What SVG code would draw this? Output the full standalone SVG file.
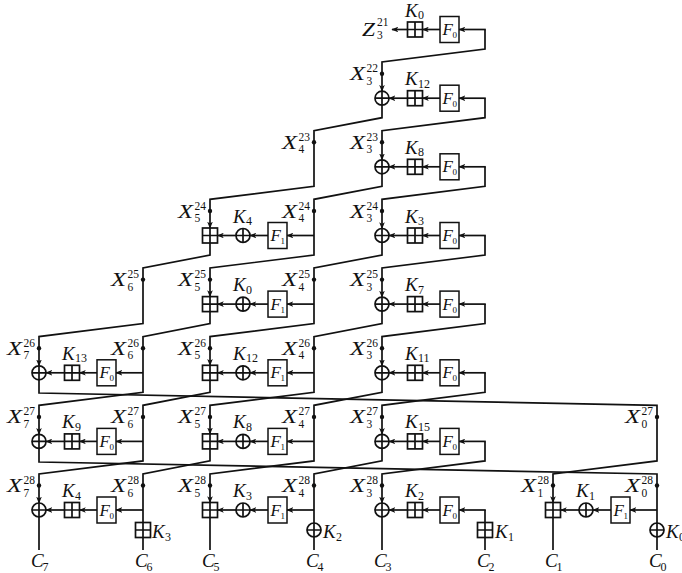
<svg xmlns="http://www.w3.org/2000/svg" width="682" height="573" viewBox="0 0 682 573">
<style>
.ln{fill:none;stroke:#111;stroke-width:1.7}
.ar{marker-end:url(#ah)}
.t{font-family:"Liberation Serif","Times New Roman",serif;font-style:italic;font-size:19px;fill:#111}
.f{font-family:"Liberation Serif","Times New Roman",serif;font-style:italic;font-size:17px;fill:#111}
.n{font-family:"Liberation Serif","Times New Roman",serif;font-size:11.5px;fill:#111}
.s{font-style:normal;font-size:12px}
.fs{font-style:normal;font-size:9px}
.dot{fill:#111}
.bx{fill:#fff;stroke:#111;stroke-width:1.5}
</style>
<defs>
<marker id="ah" viewBox="0 0 10 8" refX="9" refY="4" markerWidth="7" markerHeight="5.6" markerUnits="userSpaceOnUse" orient="auto"><path d="M0,0L10,4L0,8L2.5,4z" fill="#111"/></marker>
<g id="xor"><circle r="7" fill="#fff" stroke="#111" stroke-width="1.7"/><path d="M-7,0H7M0,-7V7" fill="none" stroke="#111" stroke-width="1.7"/></g>
<g id="add"><rect x="-7.5" y="-7.5" width="15" height="15" fill="#fff" stroke="#111" stroke-width="1.7"/><path d="M-7.5,0H7.5M0,-7.5V7.5" fill="none" stroke="#111" stroke-width="1.7"/></g>
</defs>
<rect width="682" height="573" fill="#fff"/>
<g id="connectors">
<path class="ln ar" d="M485,29.5V49L382,62V91.2"/>
<path class="ln ar" d="M485,98.2V117.7L382,130.7V159.8"/>
<path class="ln ar" d="M485,166.8V186.3L382,199.3V228.5"/>
<path class="ln ar" d="M485,235.5V255L382,268V297.1"/>
<path class="ln ar" d="M485,304.1V323.6L382,336.6V365.8"/>
<path class="ln ar" d="M485,372.8V392.3L382,405.3V434.4"/>
<path class="ln ar" d="M485,441.4V460.9L382,473.9V503"/>
<path class="ln" d="M485,510V550"/>
<path class="ln ar" d="M485.8,29.5H459"/>
<path class="ln ar" d="M485.8,98.2H459"/>
<path class="ln ar" d="M485.8,166.8H459"/>
<path class="ln ar" d="M485.8,235.5H459"/>
<path class="ln ar" d="M485.8,304.1H459"/>
<path class="ln ar" d="M485.8,372.8H459"/>
<path class="ln ar" d="M485.8,441.4H459"/>
<path class="ln ar" d="M485.8,510H459"/>
<path class="ln ar" d="M382,105.2V117.7L314,130.7V186.3L210,199.3V228"/>
<path class="ln ar" d="M382,173.8V186.3L314,199.3V255L210,268V296.6"/>
<path class="ln ar" d="M382,242.5V255L314,268V323.6L210,336.6V365.3"/>
<path class="ln ar" d="M382,311.1V323.6L314,336.6V392.3L210,405.3V433.9"/>
<path class="ln ar" d="M382,379.8V392.3L314,405.3V460.9L210,473.9V502.5"/>
<path class="ln" d="M382,448.4V460.9L314,473.9V550"/>
<path class="ln" d="M382,517V550"/>
<path class="ln ar" d="M314,235.5H287"/>
<path class="ln ar" d="M314,304.1H287"/>
<path class="ln ar" d="M314,372.8H287"/>
<path class="ln ar" d="M314,441.4H287"/>
<path class="ln ar" d="M314,510H287"/>
<path class="ln ar" d="M210,243V255L143,268V323.6L39,336.6V365.8"/>
<path class="ln ar" d="M210,311.6V323.6L143,336.6V392.3L39,405.3V434.4"/>
<path class="ln ar" d="M210,380.3V392.3L143,405.3V460.9L39,473.9V503"/>
<path class="ln" d="M210,448.9V460.9L143,473.9V550"/>
<path class="ln" d="M210,517.5V550"/>
<path class="ln ar" d="M143,372.8H116"/>
<path class="ln ar" d="M143,441.4H116"/>
<path class="ln ar" d="M143,510H116"/>
<path class="ln ar" d="M39,379.8V393L657,405.3V460.9L553,473.9V502.5"/>
<path class="ln" d="M39,448.4V462L657,474V550"/>
<path class="ln" d="M39,517V550"/>
<path class="ln ar" d="M657,510H630"/>
<path class="ln" d="M553,517.5V550"/>
<path class="ln ar" d="M440,29.5H422.5"/>
<path class="ln ar" d="M407.5,29.5H392"/>
<path class="ln ar" d="M440,98.2H422.5"/><path class="ln ar" d="M407.5,98.2H389"/>
<path class="ln ar" d="M440,166.8H422.5"/><path class="ln ar" d="M407.5,166.8H389"/>
<path class="ln ar" d="M440,235.5H422.5"/><path class="ln ar" d="M407.5,235.5H389"/>
<path class="ln ar" d="M440,304.1H422.5"/><path class="ln ar" d="M407.5,304.1H389"/>
<path class="ln ar" d="M440,372.8H422.5"/><path class="ln ar" d="M407.5,372.8H389"/>
<path class="ln ar" d="M440,441.4H422.5"/><path class="ln ar" d="M407.5,441.4H389"/>
<path class="ln ar" d="M440,510H422.5"/><path class="ln ar" d="M407.5,510H389"/>
<path class="ln ar" d="M268,235.5H250"/><path class="ln ar" d="M236,235.5H217.5"/>
<path class="ln ar" d="M268,304.1H250"/><path class="ln ar" d="M236,304.1H217.5"/>
<path class="ln ar" d="M268,372.8H250"/><path class="ln ar" d="M236,372.8H217.5"/>
<path class="ln ar" d="M268,441.4H250"/><path class="ln ar" d="M236,441.4H217.5"/>
<path class="ln ar" d="M268,510H250"/><path class="ln ar" d="M236,510H217.5"/>
<path class="ln ar" d="M97,372.8H79.5"/><path class="ln ar" d="M64.5,372.8H46"/>
<path class="ln ar" d="M97,441.4H79.5"/><path class="ln ar" d="M64.5,441.4H46"/>
<path class="ln ar" d="M97,510H79.5"/><path class="ln ar" d="M64.5,510H46"/>
<path class="ln ar" d="M611,510H593"/><path class="ln ar" d="M579,510H560.5"/>
</g>
<g id="row0">
<g id="z321"><text class="t" x="362" y="35.5" textLength="13" lengthAdjust="spacingAndGlyphs">Z</text><text class="n" x="377" y="26">21</text><text class="n" x="377" y="39">3</text></g>
<g id="add-r0-E"><use href="#add" x="415" y="29.5"/><text class="t" x="405" y="16.5">K<tspan class="s" x="418" y="19">0</tspan></text></g>
<g id="f-r0-E"><rect class="bx" x="440" y="16.5" width="19" height="26"/><text class="f" x="442.5" y="35">F<tspan class="fs" x="452.5" y="38">0</tspan></text></g>
</g>
<g id="row1">
<g id="xor-r1-E"><use href="#xor" x="382" y="98.2"/></g>
<g id="add-r1-E"><use href="#add" x="415" y="98.2"/><text class="t" x="405" y="85.2">K<tspan class="s" x="418" y="87.7">12</tspan></text></g>
<g id="f-r1-E"><rect class="bx" x="440" y="85.2" width="19" height="26"/><text class="f" x="442.5" y="103.7">F<tspan class="fs" x="452.5" y="106.7">0</tspan></text></g>
</g>
<g id="row2">
<g id="xor-r2-E"><use href="#xor" x="382" y="166.8"/></g>
<g id="add-r2-E"><use href="#add" x="415" y="166.8"/><text class="t" x="405" y="153.8">K<tspan class="s" x="418" y="156.3">8</tspan></text></g>
<g id="f-r2-E"><rect class="bx" x="440" y="153.8" width="19" height="26"/><text class="f" x="442.5" y="172.3">F<tspan class="fs" x="452.5" y="175.3">0</tspan></text></g>
</g>
<g id="row3">
<g id="add-r3-C"><use href="#add" x="210" y="235.5"/></g>
<g id="xor-r3-C"><use href="#xor" x="243" y="235.5"/><text class="t" x="233" y="222.5">K<tspan class="s" x="246" y="225">4</tspan></text></g>
<g id="f-r3-C"><rect class="bx" x="268" y="222.5" width="19" height="26"/><text class="f" x="270.5" y="241">F<tspan class="fs" x="280.5" y="244">1</tspan></text></g>
<g id="xor-r3-E"><use href="#xor" x="382" y="235.5"/></g>
<g id="add-r3-E"><use href="#add" x="415" y="235.5"/><text class="t" x="405" y="222.5">K<tspan class="s" x="418" y="225">3</tspan></text></g>
<g id="f-r3-E"><rect class="bx" x="440" y="222.5" width="19" height="26"/><text class="f" x="442.5" y="241">F<tspan class="fs" x="452.5" y="244">0</tspan></text></g>
</g>
<g id="row4">
<g id="add-r4-C"><use href="#add" x="210" y="304.1"/></g>
<g id="xor-r4-C"><use href="#xor" x="243" y="304.1"/><text class="t" x="233" y="291.1">K<tspan class="s" x="246" y="293.6">0</tspan></text></g>
<g id="f-r4-C"><rect class="bx" x="268" y="291.1" width="19" height="26"/><text class="f" x="270.5" y="309.6">F<tspan class="fs" x="280.5" y="312.6">1</tspan></text></g>
<g id="xor-r4-E"><use href="#xor" x="382" y="304.1"/></g>
<g id="add-r4-E"><use href="#add" x="415" y="304.1"/><text class="t" x="405" y="291.1">K<tspan class="s" x="418" y="293.6">7</tspan></text></g>
<g id="f-r4-E"><rect class="bx" x="440" y="291.1" width="19" height="26"/><text class="f" x="442.5" y="309.6">F<tspan class="fs" x="452.5" y="312.6">0</tspan></text></g>
</g>
<g id="row5">
<g id="xor-r5-A"><use href="#xor" x="39" y="372.8"/></g>
<g id="add-r5-A"><use href="#add" x="72" y="372.8"/><text class="t" x="62" y="359.8">K<tspan class="s" x="75" y="362.3">13</tspan></text></g>
<g id="f-r5-A"><rect class="bx" x="97" y="359.8" width="19" height="26"/><text class="f" x="99.5" y="378.3">F<tspan class="fs" x="109.5" y="381.3">0</tspan></text></g>
<g id="add-r5-C"><use href="#add" x="210" y="372.8"/></g>
<g id="xor-r5-C"><use href="#xor" x="243" y="372.8"/><text class="t" x="233" y="359.8">K<tspan class="s" x="246" y="362.3">12</tspan></text></g>
<g id="f-r5-C"><rect class="bx" x="268" y="359.8" width="19" height="26"/><text class="f" x="270.5" y="378.3">F<tspan class="fs" x="280.5" y="381.3">1</tspan></text></g>
<g id="xor-r5-E"><use href="#xor" x="382" y="372.8"/></g>
<g id="add-r5-E"><use href="#add" x="415" y="372.8"/><text class="t" x="405" y="359.8">K<tspan class="s" x="418" y="362.3">11</tspan></text></g>
<g id="f-r5-E"><rect class="bx" x="440" y="359.8" width="19" height="26"/><text class="f" x="442.5" y="378.3">F<tspan class="fs" x="452.5" y="381.3">0</tspan></text></g>
</g>
<g id="row6">
<g id="xor-r6-A"><use href="#xor" x="39" y="441.4"/></g>
<g id="add-r6-A"><use href="#add" x="72" y="441.4"/><text class="t" x="62" y="428.4">K<tspan class="s" x="75" y="430.9">9</tspan></text></g>
<g id="f-r6-A"><rect class="bx" x="97" y="428.4" width="19" height="26"/><text class="f" x="99.5" y="446.9">F<tspan class="fs" x="109.5" y="449.9">0</tspan></text></g>
<g id="add-r6-C"><use href="#add" x="210" y="441.4"/></g>
<g id="xor-r6-C"><use href="#xor" x="243" y="441.4"/><text class="t" x="233" y="428.4">K<tspan class="s" x="246" y="430.9">8</tspan></text></g>
<g id="f-r6-C"><rect class="bx" x="268" y="428.4" width="19" height="26"/><text class="f" x="270.5" y="446.9">F<tspan class="fs" x="280.5" y="449.9">1</tspan></text></g>
<g id="xor-r6-E"><use href="#xor" x="382" y="441.4"/></g>
<g id="add-r6-E"><use href="#add" x="415" y="441.4"/><text class="t" x="405" y="428.4">K<tspan class="s" x="418" y="430.9">15</tspan></text></g>
<g id="f-r6-E"><rect class="bx" x="440" y="428.4" width="19" height="26"/><text class="f" x="442.5" y="446.9">F<tspan class="fs" x="452.5" y="449.9">0</tspan></text></g>
</g>
<g id="row7">
<g id="xor-r7-A"><use href="#xor" x="39" y="510"/></g>
<g id="add-r7-A"><use href="#add" x="72" y="510"/><text class="t" x="62" y="497">K<tspan class="s" x="75" y="499.5">4</tspan></text></g>
<g id="f-r7-A"><rect class="bx" x="97" y="497" width="19" height="26"/><text class="f" x="99.5" y="515.5">F<tspan class="fs" x="109.5" y="518.5">0</tspan></text></g>
<g id="add-r7-C"><use href="#add" x="210" y="510"/></g>
<g id="xor-r7-C"><use href="#xor" x="243" y="510"/><text class="t" x="233" y="497">K<tspan class="s" x="246" y="499.5">3</tspan></text></g>
<g id="f-r7-C"><rect class="bx" x="268" y="497" width="19" height="26"/><text class="f" x="270.5" y="515.5">F<tspan class="fs" x="280.5" y="518.5">1</tspan></text></g>
<g id="xor-r7-E"><use href="#xor" x="382" y="510"/></g>
<g id="add-r7-E"><use href="#add" x="415" y="510"/><text class="t" x="405" y="497">K<tspan class="s" x="418" y="499.5">2</tspan></text></g>
<g id="f-r7-E"><rect class="bx" x="440" y="497" width="19" height="26"/><text class="f" x="442.5" y="515.5">F<tspan class="fs" x="452.5" y="518.5">0</tspan></text></g>
<g id="add-r7-G"><use href="#add" x="553" y="510"/></g>
<g id="xor-r7-G"><use href="#xor" x="586" y="510"/><text class="t" x="576" y="497">K<tspan class="s" x="589" y="499.5">1</tspan></text></g>
<g id="f-r7-G"><rect class="bx" x="611" y="497" width="19" height="26"/><text class="f" x="613.5" y="515.5">F<tspan class="fs" x="623.5" y="518.5">1</tspan></text></g>
<g id="add-k3-B"><use href="#add" x="143" y="530"/><text class="t" x="152" y="537.5">K<tspan class="s" x="165" y="540.5">3</tspan></text></g>
<g id="xor-k2-D"><use href="#xor" x="314" y="530"/><text class="t" x="323" y="537.5">K<tspan class="s" x="336" y="540.5">2</tspan></text></g>
<g id="add-k1-F"><use href="#add" x="485" y="530"/><text class="t" x="495" y="537.5">K<tspan class="s" x="508" y="540.5">1</tspan></text></g>
<g id="xor-k0-H"><use href="#xor" x="657" y="530"/><text class="t" x="666" y="537.5">K<tspan class="s" x="679" y="540.5">0</tspan></text></g>
</g>
<g id="state-labels">
<circle class="dot" cx="382" cy="73.7" r="2.2"/><text class="t" x="350" y="80.2" textLength="15" lengthAdjust="spacingAndGlyphs">X</text><text class="n" x="366.5" y="72.2">22</text><text class="n" x="366.5" y="84.7">3</text>
<circle class="dot" cx="314" cy="142.3" r="2.2"/><text class="t" x="282" y="148.8" textLength="15" lengthAdjust="spacingAndGlyphs">X</text><text class="n" x="298.5" y="140.8">23</text><text class="n" x="298.5" y="153.3">4</text>
<circle class="dot" cx="382" cy="142.3" r="2.2"/><text class="t" x="350" y="148.8" textLength="15" lengthAdjust="spacingAndGlyphs">X</text><text class="n" x="366.5" y="140.8">23</text><text class="n" x="366.5" y="153.3">3</text>
<circle class="dot" cx="210" cy="211" r="2.2"/><text class="t" x="178" y="217.5" textLength="15" lengthAdjust="spacingAndGlyphs">X</text><text class="n" x="194.5" y="209.5">24</text><text class="n" x="194.5" y="222">5</text>
<circle class="dot" cx="314" cy="211" r="2.2"/><text class="t" x="282" y="217.5" textLength="15" lengthAdjust="spacingAndGlyphs">X</text><text class="n" x="298.5" y="209.5">24</text><text class="n" x="298.5" y="222">4</text>
<circle class="dot" cx="382" cy="211" r="2.2"/><text class="t" x="350" y="217.5" textLength="15" lengthAdjust="spacingAndGlyphs">X</text><text class="n" x="366.5" y="209.5">24</text><text class="n" x="366.5" y="222">3</text>
<circle class="dot" cx="143" cy="279.6" r="2.2"/><text class="t" x="111" y="286.1" textLength="15" lengthAdjust="spacingAndGlyphs">X</text><text class="n" x="127.5" y="278.1">25</text><text class="n" x="127.5" y="290.6">6</text>
<circle class="dot" cx="210" cy="279.6" r="2.2"/><text class="t" x="178" y="286.1" textLength="15" lengthAdjust="spacingAndGlyphs">X</text><text class="n" x="194.5" y="278.1">25</text><text class="n" x="194.5" y="290.6">5</text>
<circle class="dot" cx="314" cy="279.6" r="2.2"/><text class="t" x="282" y="286.1" textLength="15" lengthAdjust="spacingAndGlyphs">X</text><text class="n" x="298.5" y="278.1">25</text><text class="n" x="298.5" y="290.6">4</text>
<circle class="dot" cx="382" cy="279.6" r="2.2"/><text class="t" x="350" y="286.1" textLength="15" lengthAdjust="spacingAndGlyphs">X</text><text class="n" x="366.5" y="278.1">25</text><text class="n" x="366.5" y="290.6">3</text>
<circle class="dot" cx="39" cy="348.3" r="2.2"/><text class="t" x="7" y="354.8" textLength="15" lengthAdjust="spacingAndGlyphs">X</text><text class="n" x="23.5" y="346.8">26</text><text class="n" x="23.5" y="359.3">7</text>
<circle class="dot" cx="143" cy="348.3" r="2.2"/><text class="t" x="111" y="354.8" textLength="15" lengthAdjust="spacingAndGlyphs">X</text><text class="n" x="127.5" y="346.8">26</text><text class="n" x="127.5" y="359.3">6</text>
<circle class="dot" cx="210" cy="348.3" r="2.2"/><text class="t" x="178" y="354.8" textLength="15" lengthAdjust="spacingAndGlyphs">X</text><text class="n" x="194.5" y="346.8">26</text><text class="n" x="194.5" y="359.3">5</text>
<circle class="dot" cx="314" cy="348.3" r="2.2"/><text class="t" x="282" y="354.8" textLength="15" lengthAdjust="spacingAndGlyphs">X</text><text class="n" x="298.5" y="346.8">26</text><text class="n" x="298.5" y="359.3">4</text>
<circle class="dot" cx="382" cy="348.3" r="2.2"/><text class="t" x="350" y="354.8" textLength="15" lengthAdjust="spacingAndGlyphs">X</text><text class="n" x="366.5" y="346.8">26</text><text class="n" x="366.5" y="359.3">3</text>
<circle class="dot" cx="39" cy="416.9" r="2.2"/><text class="t" x="7" y="423.4" textLength="15" lengthAdjust="spacingAndGlyphs">X</text><text class="n" x="23.5" y="415.4">27</text><text class="n" x="23.5" y="427.9">7</text>
<circle class="dot" cx="143" cy="416.9" r="2.2"/><text class="t" x="111" y="423.4" textLength="15" lengthAdjust="spacingAndGlyphs">X</text><text class="n" x="127.5" y="415.4">27</text><text class="n" x="127.5" y="427.9">6</text>
<circle class="dot" cx="210" cy="416.9" r="2.2"/><text class="t" x="178" y="423.4" textLength="15" lengthAdjust="spacingAndGlyphs">X</text><text class="n" x="194.5" y="415.4">27</text><text class="n" x="194.5" y="427.9">5</text>
<circle class="dot" cx="314" cy="416.9" r="2.2"/><text class="t" x="282" y="423.4" textLength="15" lengthAdjust="spacingAndGlyphs">X</text><text class="n" x="298.5" y="415.4">27</text><text class="n" x="298.5" y="427.9">4</text>
<circle class="dot" cx="382" cy="416.9" r="2.2"/><text class="t" x="350" y="423.4" textLength="15" lengthAdjust="spacingAndGlyphs">X</text><text class="n" x="366.5" y="415.4">27</text><text class="n" x="366.5" y="427.9">3</text>
<circle class="dot" cx="657" cy="416.9" r="2.2"/><text class="t" x="625" y="423.4" textLength="15" lengthAdjust="spacingAndGlyphs">X</text><text class="n" x="641.5" y="415.4">27</text><text class="n" x="641.5" y="427.9">0</text>
<circle class="dot" cx="39" cy="485.5" r="2.2"/><text class="t" x="7" y="492" textLength="15" lengthAdjust="spacingAndGlyphs">X</text><text class="n" x="23.5" y="484">28</text><text class="n" x="23.5" y="496.5">7</text>
<circle class="dot" cx="143" cy="485.5" r="2.2"/><text class="t" x="111" y="492" textLength="15" lengthAdjust="spacingAndGlyphs">X</text><text class="n" x="127.5" y="484">28</text><text class="n" x="127.5" y="496.5">6</text>
<circle class="dot" cx="210" cy="485.5" r="2.2"/><text class="t" x="178" y="492" textLength="15" lengthAdjust="spacingAndGlyphs">X</text><text class="n" x="194.5" y="484">28</text><text class="n" x="194.5" y="496.5">5</text>
<circle class="dot" cx="314" cy="485.5" r="2.2"/><text class="t" x="282" y="492" textLength="15" lengthAdjust="spacingAndGlyphs">X</text><text class="n" x="298.5" y="484">28</text><text class="n" x="298.5" y="496.5">4</text>
<circle class="dot" cx="382" cy="485.5" r="2.2"/><text class="t" x="350" y="492" textLength="15" lengthAdjust="spacingAndGlyphs">X</text><text class="n" x="366.5" y="484">28</text><text class="n" x="366.5" y="496.5">3</text>
<circle class="dot" cx="553" cy="485.5" r="2.2"/><text class="t" x="521" y="492" textLength="15" lengthAdjust="spacingAndGlyphs">X</text><text class="n" x="537.5" y="484">28</text><text class="n" x="537.5" y="496.5">1</text>
<circle class="dot" cx="657" cy="485.5" r="2.2"/><text class="t" x="625" y="492" textLength="15" lengthAdjust="spacingAndGlyphs">X</text><text class="n" x="641.5" y="484">28</text><text class="n" x="641.5" y="496.5">0</text>
</g>
<g id="outputs">
<text class="t" x="31" y="567">C<tspan class="s" x="42.5" y="571">7</tspan></text>
<text class="t" x="135" y="567">C<tspan class="s" x="146.5" y="571">6</tspan></text>
<text class="t" x="202" y="567">C<tspan class="s" x="213.5" y="571">5</tspan></text>
<text class="t" x="306" y="567">C<tspan class="s" x="317.5" y="571">4</tspan></text>
<text class="t" x="374" y="567">C<tspan class="s" x="385.5" y="571">3</tspan></text>
<text class="t" x="477" y="567">C<tspan class="s" x="488.5" y="571">2</tspan></text>
<text class="t" x="545" y="567">C<tspan class="s" x="556.5" y="571">1</tspan></text>
<text class="t" x="649" y="567">C<tspan class="s" x="660.5" y="571">0</tspan></text>
</g>
</svg>
